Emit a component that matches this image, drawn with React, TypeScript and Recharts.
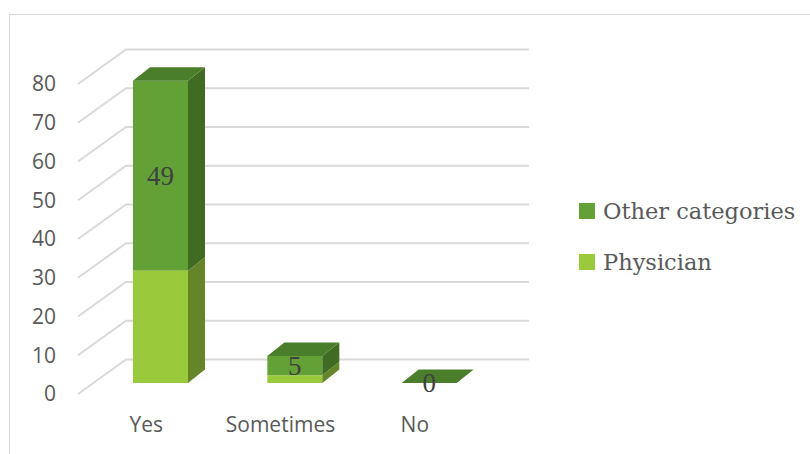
import React from 'react';
import { BarChart, Bar, XAxis, YAxis, CartesianGrid, Legend, LabelList } from 'recharts';

// Survey answers, split by respondent group
const categories = ['Yes', 'Sometimes', 'No'];
const physicianValues = [29, 2, 0];
const otherValues = [49, 5, 0];
const yTicks = [0, 10, 20, 30, 40, 50, 60, 70, 80];
const legendOrder = ['Other categories', 'Physician'];

const data = categories.map((name, i) => ({
  name,
  physician: physicianValues[i],
  other: otherValues[i],
}));

const W = 810;
const H = 454;

// Oblique projection offsets used to fake the 3-D look
const FACE_DX = 14; // bar front plane relative to the floor's front edge
const FACE_DY = -11;
const DEPTH_DX = 17; // bar depth
const DEPTH_DY = -13.5;
const WALL_DX = 47; // back wall relative to the floor's front edge
const WALL_DY = -34.5;

const GRID = '#D9D9D9';
const AXIS_TEXT = '#595959';

const palette = {
  other: { front: '#63A136', side: '#3F6B22', top: '#4B7E2A' },
  physician: { front: '#9ACA3C', side: '#66852A', top: '#7FA832' },
};

type Faces = { front: string; side: string; top: string };

const makeBox = (c: Faces, withTop: boolean) => (props: any) => {
  const { x, y, width, height } = props;
  if (x == null || y == null) return <g />;
  const h = Math.max(Number(height) || 0, 0);
  const w = Number(width);
  const fx = Number(x) + FACE_DX;
  const fy = Number(y) + FACE_DY;
  const side = [
    [fx + w, fy],
    [fx + w + DEPTH_DX, fy + DEPTH_DY],
    [fx + w + DEPTH_DX, fy + h + DEPTH_DY],
    [fx + w, fy + h],
  ];
  const top = [
    [fx, fy],
    [fx + DEPTH_DX, fy + DEPTH_DY],
    [fx + w + DEPTH_DX, fy + DEPTH_DY],
    [fx + w, fy],
  ];
  const pts = (p: number[][]) => p.map((q) => q.join(',')).join(' ');
  return (
    <g>
      {h > 0 && <rect x={fx} y={fy} width={w} height={h} fill={c.front} />}
      {h > 0 && <polygon points={pts(side)} fill={c.side} />}
      {withTop && <polygon points={pts(top)} fill={c.top} />}
    </g>
  );
};

const PhysicianShape = makeBox(palette.physician, false);
const OtherShape = makeBox(palette.other, true);

// Floor segment + back-wall line for every value gridline
const WallLine = (props: any) => {
  const { x1, y1, x2 } = props;
  const pts = [
    [x1 - 1, y1],
    [x1 + WALL_DX, y1 + WALL_DY],
    [x2 + WALL_DX, y1 + WALL_DY],
  ]
    .map((p) => p.join(','))
    .join(' ');
  return <polyline key={`wall-${y1}`} points={pts} fill="none" stroke={GRID} strokeWidth={2} />;
};

const ValueLabel = (props: any) => {
  const vb = props.viewBox || props;
  const x = Number(vb.x);
  const y = Number(vb.y);
  const w = Number(vb.width);
  const h = Number(vb.height) || 0;
  return (
    <text
      x={x + w / 2 + FACE_DX}
      y={y + h / 2 + FACE_DY}
      textAnchor="middle"
      dominantBaseline="central"
      fontFamily="'Liberation Serif', serif"
      fontSize={27}
      fill="#404040"
    >
      {props.value}
    </text>
  );
};

const LegendContent = (props: any) => {
  const items = [...(props.payload || [])].sort(
    (a: any, b: any) => legendOrder.indexOf(a.value) - legendOrder.indexOf(b.value)
  );
  return (
    <div>
      {items.map((it: any) => (
        <div
          key={it.value}
          style={{ display: 'flex', alignItems: 'center', height: 51.5 }}
        >
          <div style={{ width: 16, height: 16, background: it.color, marginRight: 8 }} />
          <span
            style={{
              fontFamily: "'DejaVu Serif', serif",
              fontSize: 22.5,
              color: AXIS_TEXT,
              whiteSpace: 'nowrap',
            }}
          >
            {it.value}
          </span>
        </div>
      ))}
    </div>
  );
};

export default function App() {
  return (
    <div style={{ position: 'absolute', left: 0, top: 0, width: W, height: H, overflow: 'hidden', background: '#fff' }}>
      <div
        style={{
          position: 'absolute',
          left: 9,
          top: 14,
          width: W,
          height: H,
          border: `1.5px solid ${GRID}`,
        }}
      />
      <BarChart
        width={W}
        height={H}
        data={data}
        margin={{ top: 84, right: 328, bottom: 30, left: 0 }}
        barSize={55}
      >
        <CartesianGrid vertical={false} horizontal={(p: any) => <WallLine {...p} />} />
        <XAxis
          dataKey="name"
          axisLine={false}
          tickLine={false}
          tickSize={0}
          tickMargin={23}
          height={30}
          tick={{ fill: AXIS_TEXT, fontSize: 21, fontFamily: "'Open Sans', sans-serif" }}
        />
        <YAxis
          domain={[0, 80]}
          ticks={yTicks}
          width={79}
          axisLine={false}
          tickLine={false}
          tickSize={0}
          tickMargin={23}
          tick={{ fill: AXIS_TEXT, fontSize: 21, fontFamily: "'Open Sans', sans-serif" }}
        />
        <Legend
          layout="vertical"
          align="center"
          verticalAlign="middle"
          content={<LegendContent />}
          wrapperStyle={{ left: 579, top: 185, width: 230 }}
        />
        <Bar
          dataKey="physician"
          name="Physician"
          stackId="a"
          fill={palette.physician.front}
          shape={<PhysicianShape />}
          isAnimationActive={false}
        />
        <Bar
          dataKey="other"
          name="Other categories"
          stackId="a"
          fill={palette.other.front}
          shape={<OtherShape />}
          isAnimationActive={false}
        >
          <LabelList dataKey="other" content={<ValueLabel />} />
        </Bar>
      </BarChart>
    </div>
  );
}
